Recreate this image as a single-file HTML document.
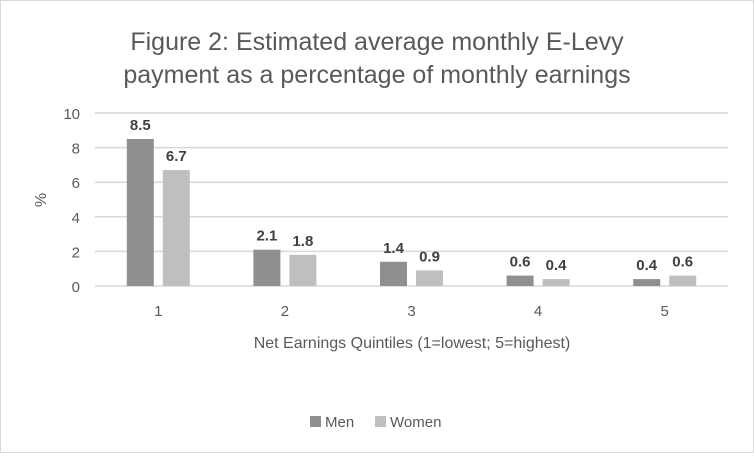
<!DOCTYPE html>
<html><head><meta charset="utf-8"><style>
body{margin:0;background:#fff}
svg text{font-family:"Liberation Sans",sans-serif}
</style></head><body>
<svg width="754" height="453">
<rect x="0.5" y="0.5" width="753" height="452" fill="#fff" stroke="#d9d9d9"/>
<text x="377" y="50" text-anchor="middle" font-size="25" fill="#595959">Figure 2: Estimated average monthly E-Levy</text>
<text x="377" y="83" text-anchor="middle" font-size="25" fill="#595959">payment as a percentage of monthly earnings</text>
<g id="grid"></g><g id="bars"></g><g id="labels"></g>
<text x="46" y="200" text-anchor="middle" font-size="16" fill="#595959" transform="rotate(-90 46 200)">%</text>
<text x="412" y="348" text-anchor="middle" font-size="16" fill="#595959">Net Earnings Quintiles (1=lowest; 5=highest)</text>
<g>
<rect x="310" y="416" width="11" height="11" fill="#8f8f8f"/>
<text x="325" y="427" font-size="15" fill="#595959">Men</text>
<rect x="375" y="416" width="11" height="11" fill="#bfbfbf"/>
<text x="390" y="427" font-size="15" fill="#595959">Women</text>
</g>
</svg>
<script>
const categories=["1","2","3","4","5"];
const men=[8.5,2.1,1.4,0.6,0.4];
const women=[6.7,1.8,0.9,0.4,0.6];
const yTicks=[0,2,4,6,8,10];
const ns="http://www.w3.org/2000/svg";
const x0=95,x1=728,y0=286,y1=113,yMax=10;
const y=v=>y0-(v/yMax)*(y0-y1);
const step=(x1-x0)/categories.length;
const cx=i=>x0+step*(i+0.5);
function mk(t,a,p){const e=document.createElementNS(ns,t);for(const k in a)e.setAttribute(k,a[k]);document.getElementById(p).appendChild(e);return e;}
yTicks.forEach(v=>{
 const l=mk('line',{x1:x0,x2:x1,y1:y(v),y2:y(v),stroke:'#d9d9d9','stroke-width':1.5},'grid');
 
 
 const t=mk('text',{x:80,y:y(v)+6,'text-anchor':'end','font-size':15,fill:'#595959'},'labels');
 t.textContent=v;
 
 
});
const bw=27,gap=9;
categories.forEach((c,i)=>{
 const t=mk('text',{x:cx(i),y:316,'text-anchor':'middle','font-size':15,fill:'#595959'},'labels');
 t.textContent=c;
 
 
 [[men,'#8f8f8f','men',-1],[women,'#bfbfbf','women',1]].forEach(([arr,col,nm,s])=>{
  const bx=s<0?cx(i)-gap/2-bw:cx(i)+gap/2;
  const r=mk('rect',{x:bx,y:y(arr[i]),width:bw,height:y0-y(arr[i]),fill:col},'bars');
  
  
  const lt=mk('text',{x:bx+bw/2,y:y(arr[i])-9,'text-anchor':'middle','font-size':15,'font-weight':'bold',fill:'#404040'},'labels');
  lt.textContent=arr[i].toFixed(1);
  
  
 });
});
</script>
</body></html>
